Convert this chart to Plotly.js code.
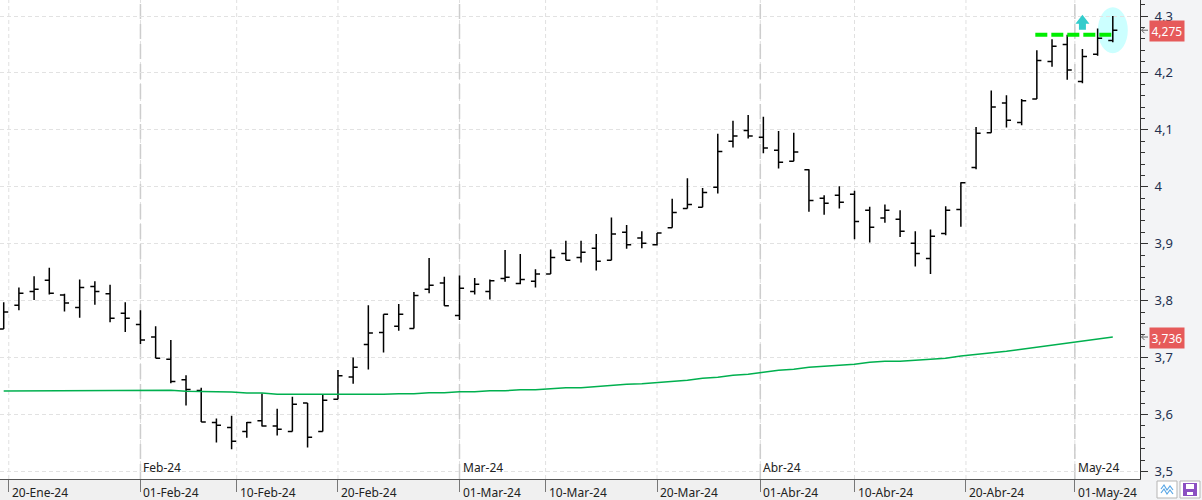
<!DOCTYPE html>
<html><head><meta charset="utf-8">
<script src="https://cdn.plot.ly/plotly-3.0.1.min.js"></script>
<style>html,body{margin:0;padding:0;background:#fff;}#chart{width:1202px;height:500px;}</style>
</head><body><div id="chart"></div>
<script>
// Trading days (Spanish market)
const dates = [
 '2024-01-19','2024-01-22','2024-01-23','2024-01-24','2024-01-25','2024-01-26','2024-01-29','2024-01-30','2024-01-31',
 '2024-02-01','2024-02-02','2024-02-05','2024-02-06','2024-02-07','2024-02-08','2024-02-09','2024-02-12','2024-02-13','2024-02-14','2024-02-15','2024-02-16','2024-02-19','2024-02-20','2024-02-21','2024-02-22','2024-02-23','2024-02-26','2024-02-27','2024-02-28','2024-02-29',
 '2024-03-01','2024-03-04','2024-03-05','2024-03-06','2024-03-07','2024-03-08','2024-03-11','2024-03-12','2024-03-13','2024-03-14','2024-03-15','2024-03-18','2024-03-19','2024-03-20','2024-03-21','2024-03-22','2024-03-25','2024-03-26','2024-03-27','2024-03-28',
 '2024-04-02','2024-04-03','2024-04-04','2024-04-05','2024-04-08','2024-04-09','2024-04-10','2024-04-11','2024-04-12','2024-04-15','2024-04-16','2024-04-17','2024-04-18','2024-04-19','2024-04-22','2024-04-23','2024-04-24','2024-04-25','2024-04-26','2024-04-29','2024-04-30',
 '2024-05-02','2024-05-03','2024-05-06'];

const open = [3.750,3.792,3.816,3.836,3.810,3.788,3.825,3.812,3.778,3.758,3.736,3.697,3.661,3.642,3.586,3.577,3.570,3.589,3.580,3.570,3.620,3.570,3.627,3.666,3.723,3.744,3.755,3.751,3.820,3.831,
 3.774,3.816,3.816,3.839,3.830,3.834,3.847,3.883,3.876,3.892,3.871,3.920,3.910,3.898,3.928,3.962,3.964,3.999,4.080,4.099,
 4.087,4.064,4.045,4.030,3.980,3.985,3.987,3.959,3.945,3.943,3.901,3.874,3.918,3.960,4.034,4.095,4.147,4.113,4.154,4.220,4.250,4.185,4.233,4.257];
const high = [3.797,3.823,3.843,3.858,3.812,3.837,3.834,3.828,3.797,3.783,3.755,3.731,3.669,3.647,3.593,3.598,3.587,3.637,3.610,3.631,3.620,3.635,3.678,3.700,3.792,3.776,3.794,3.815,3.875,3.842,
 3.844,3.840,3.837,3.889,3.882,3.855,3.890,3.905,3.905,3.917,3.946,3.933,3.922,3.919,3.979,4.015,3.998,4.093,4.116,4.126,
 4.123,4.098,4.095,4.031,3.985,4.001,3.993,3.965,3.969,3.959,3.922,3.925,3.966,4.008,4.105,4.169,4.161,4.154,4.240,4.259,4.267,4.242,4.278,4.300];
const low = [3.750,3.783,3.801,3.811,3.781,3.770,3.793,3.762,3.745,3.724,3.699,3.655,3.616,3.587,3.551,3.539,3.559,3.579,3.563,3.570,3.542,3.570,3.627,3.654,3.679,3.709,3.747,3.751,3.813,3.791,
 3.766,3.811,3.802,3.833,3.829,3.823,3.847,3.871,3.867,3.853,3.871,3.891,3.892,3.897,3.928,3.962,3.964,3.988,4.069,4.085,
 4.059,4.032,4.045,3.956,3.951,3.962,3.908,3.902,3.937,3.912,3.860,3.847,3.915,3.930,4.031,4.095,4.104,4.108,4.154,4.211,4.188,4.182,4.230,4.254];
const close = [3.780,3.813,3.820,3.813,3.796,3.823,3.816,3.769,3.769,3.731,3.699,3.658,3.644,3.587,3.581,3.553,3.586,3.580,3.574,3.618,3.560,3.625,3.668,3.683,3.743,3.776,3.776,3.809,3.827,3.791,
 3.822,3.829,3.835,3.841,3.837,3.847,3.876,3.871,3.885,3.869,3.917,3.898,3.901,3.919,3.955,3.969,3.990,4.062,4.089,4.089,
 4.068,4.043,4.061,3.976,3.971,3.973,3.939,3.929,3.959,3.922,3.883,3.913,3.959,4.007,4.094,4.140,4.117,4.151,4.222,4.247,4.205,4.229,4.261,4.275];
const ma200 = [3.6413,3.6413,3.6413,3.6425,3.6425,3.6425,3.6425,3.6425,3.6425,3.6425,3.6425,3.6425,3.6408,3.6408,3.6395,3.6395,3.6378,3.6378,3.6355,3.6355,3.6355,3.6343,3.6355,3.6355,3.6355,3.6355,3.6366,3.6366,3.6383,3.6383,
 3.6400,3.6400,3.6418,3.6418,3.6436,3.6436,3.6453,3.6471,3.6471,3.6495,3.6513,3.6530,3.6541,3.6559,3.6583,3.6601,3.6636,3.6654,3.6689,3.6706,
 3.6741,3.6776,3.6794,3.6829,3.6847,3.6864,3.6882,3.6917,3.6934,3.6934,3.6952,3.6969,3.6987,3.7028,3.7051,3.7075,3.7110,3.7145,3.7180,3.7215,3.7250,3.7286,3.7321,3.7361];

const tickDates = ['2024-01-20','2024-02-01','2024-02-10','2024-02-20','2024-03-01','2024-03-10','2024-03-20','2024-04-01','2024-04-10','2024-04-20','2024-05-01'];
const tickTexts = ['20-Ene-24','01-Feb-24','10-Feb-24','20-Feb-24','01-Mar-24','10-Mar-24','20-Mar-24','01-Abr-24','10-Abr-24','20-Abr-24','01-May-24'];
const monthDates = ['2024-02-01','2024-03-01','2024-04-01','2024-05-01'];
const monthTexts = ['Feb-24','Mar-24','Abr-24','May-24'];
const resistance = 4.267;
const signalDate = '2024-05-02';

// ---- helpers ----
const idx = dates.map((d,i)=>i);
const T = dates.map(d=>Date.parse(d));
function pos(ds){
  const t = Date.parse(ds);
  for(let i=0;i<T.length-1;i++){
    if(t>=T[i] && t<T[i+1]) return i + (t-T[i])/(T[i+1]-T[i]);
  }
  return T.length-1;
}
const fmt = v => v.toFixed(3).replace('.',',');
const W = 1140, H = 479;
const px = p => p / W, py = p => (H - p) / H;

const xr = [-0.244, 74.79];
const yr = [4.3 - (H-16)/569.3, 4.3 + 16/569.3];

const traces = [
 {type:'scatter', mode:'lines', x:idx, y:ma200, line:{color:'#00b04f', width:1.5, shape:'linear'}, hoverinfo:'skip', showlegend:false},
 {type:'ohlc', x:idx, open:open, high:high, low:low, close:close, tickwidth:0.3,
  increasing:{line:{color:'#000', width:1.5}}, decreasing:{line:{color:'#000', width:1.5}}, hoverinfo:'skip', showlegend:false}
];

const shapes = [];
// bottom band
shapes.push({type:'rect', xref:'paper', yref:'paper', x0:0, x1:1, y0:py(500), y1:0, fillcolor:'#f0f0f0', line:{width:0}, layer:'below'});
const tickPos = tickDates.map(pos);
tickPos.forEach(p=>{
  shapes.push({type:'line', xref:'x', yref:'paper', x0:p, x1:p, y0:0, y1:1, line:{color:'#e0e0e0', width:1, dash:'4px,3px'}, layer:'below'});
});
const monthPos = monthDates.map(pos);
monthPos.forEach(p=>{
  shapes.push({type:'line', xref:'x', yref:'paper', x0:p, x1:p, y0:0, y1:1, line:{color:'#cdcdcd', width:1.5, dash:'15px,5px'}, layer:'below'});
});
// highlight ellipse around last bar
const last = dates.length-1;
shapes.push({type:'circle', xref:'x', yref:'y', xsizemode:'pixel', ysizemode:'pixel', xanchor:last, yanchor:close[last],
  x0:-15, x1:15, y0:-23, y1:23, fillcolor:'#ccffff', line:{width:0}, layer:'below'});
// resistance dashed line
shapes.push({type:'line', xref:'x', yref:'y', x0:last-5.1, x1:last, y0:resistance, y1:resistance, line:{color:'#00ee00', width:4, dash:'12px,4px'}});
// up arrow
shapes.push({type:'path', xref:'x', yref:'y', xsizemode:'pixel', ysizemode:'pixel', xanchor:pos(signalDate), yanchor:resistance,
  path:'M -3.5 5 L 3.5 5 L 3.5 11 L 7 11 L 0 20 L -7 11 L -3.5 11 Z', fillcolor:'#33cccc', line:{width:0}});
// small pointer arrows next to the price labels
[close[last], ma200[last]].forEach(v=>{
  shapes.push({type:'path', xref:'paper', yref:'y', ysizemode:'pixel', yanchor:v,
    path:`M ${px(1148)} 0 L ${px(1141.5)} 0 M ${px(1144.5)} 3 L ${px(1141.5)} 0 L ${px(1144.5)} -3`,
    line:{color:'#666', width:1}});
});
// buttons bottom right
shapes.push({type:'rect', xref:'paper', yref:'paper', x0:px(1157), x1:px(1177), y0:py(498), y1:py(481), fillcolor:'#ffffff', line:{color:'#b5b5b5', width:1}});
shapes.push({type:'path', xref:'paper', yref:'paper',
  path:`M ${px(1161)} ${py(489)} L ${px(1164)} ${py(485)} L ${px(1167)} ${py(490)} L ${px(1170)} ${py(486)} L ${px(1173)} ${py(490)}
        M ${px(1161)} ${py(493)} L ${px(1164)} ${py(489)} L ${px(1167)} ${py(494)} L ${px(1170)} ${py(490)} L ${px(1173)} ${py(494)}`,
  line:{color:'#5aa7e6', width:1.2}});
shapes.push({type:'rect', xref:'paper', yref:'paper', x0:px(1180), x1:px(1200), y0:py(498), y1:py(481), fillcolor:'#ffffff', line:{color:'#b5b5b5', width:1}});
shapes.push({type:'rect', xref:'paper', yref:'paper', x0:px(1183), x1:px(1197), y0:py(496), y1:py(483), fillcolor:'#8b4fc2', line:{width:0}});
shapes.push({type:'rect', xref:'paper', yref:'paper', x0:px(1186), x1:px(1194), y0:py(489), y1:py(484), fillcolor:'#ffffff', line:{width:0}});
shapes.push({type:'rect', xref:'paper', yref:'paper', x0:px(1187), x1:px(1193), y0:py(495), y1:py(492), fillcolor:'#ffffff', line:{width:0}});

const annotations = [];
tickPos.forEach((p,i)=>{
  annotations.push({x:p, xref:'x', y:0, yref:'paper', yanchor:'top', xanchor:'left', xshift:1, yshift:-3,
    text:tickTexts[i], showarrow:false, font:{size:12, color:'#222'}});
});
monthPos.forEach((p,i)=>{
  annotations.push({x:p, xref:'x', y:0, yref:'paper', yanchor:'bottom', xanchor:'left', xshift:1, yshift:1,
    text:monthTexts[i], showarrow:false, font:{size:12, color:'#222'}});
});
[close[last], ma200[last]].forEach(v=>{
  annotations.push({x:1, xref:'paper', y:v, yref:'y', xanchor:'left', xshift:9, yshift:-1, text:fmt(v), showarrow:false,
    bgcolor:'#e65a5a', borderpad:1.5, font:{size:12, color:'#ffffff'}});
});

const layout = {
  width:1202, height:500,
  margin:{l:0, r:62, t:0, b:21, pad:0},
  paper_bgcolor:'#f3f4f6', plot_bgcolor:'#ffffff',
  separators:',.',
  font:{family:'Noto Sans, sans-serif', size:12, color:'#222'},
  showlegend:false,
  xaxis:{type:'linear', range:xr, showgrid:false, zeroline:false, showline:true, linecolor:'#555', linewidth:1,
    tickmode:'array', tickvals:tickPos, ticks:'outside', ticklen:12, tickcolor:'#777', tickwidth:1, showticklabels:false,
    rangeslider:{visible:false}, fixedrange:true},
  yaxis:{side:'right', range:yr, dtick:0.1, tick0:3.5, showgrid:true, gridcolor:'#e2e2e2', griddash:'4px,3px', gridwidth:1,
    zeroline:false, showline:true, linecolor:'#333', linewidth:1, ticks:'outside', ticklen:7, tickcolor:'#333',
    tickfont:{size:13, color:'#22304f'}, ticklabelstandoff:4,
    minor:{dtick:0.02, tick0:3.5, ticks:'outside', ticklen:4, tickcolor:'#333', showgrid:false}, fixedrange:true},
  shapes:shapes, annotations:annotations
};
Plotly.newPlot('chart', traces, layout, {staticPlot:true, displayModeBar:false});
</script></body></html>
